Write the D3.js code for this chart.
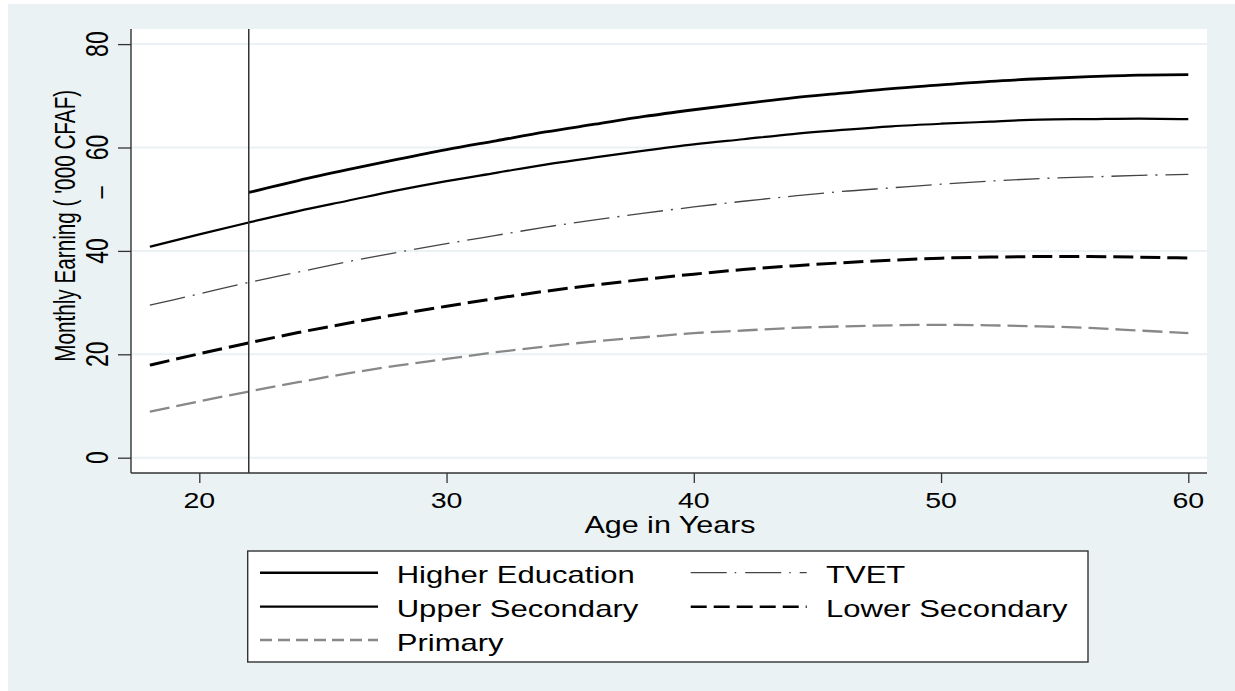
<!DOCTYPE html>
<html>
<head>
<meta charset="utf-8">
<script src="https://cdn.jsdelivr.net/npm/d3@7"></script>
<style>
  html, body { margin: 0; padding: 0; background: #ffffff; }
  svg { display: block; }
  text { font-family: "Liberation Sans", Arial, Helvetica, sans-serif; fill: #000; }
</style>
</head>
<body>
<svg id="chart" width="1235" height="691"></svg>
<script>
// ---------------- DATA ----------------
const ages = [18,20,22,24,26,28,30,32,34,36,38,40,42,44,46,48,50,52,54,56,58,60];
const higherAges = [22,24,26,28,30,32,34,36,38,40,42,44,46,48,50,52,54,56,58,60];
const higherEducation = [51.3,53.6,55.7,57.7,59.6,61.3,63.0,64.5,66.0,67.3,68.5,69.6,70.5,71.4,72.1,72.8,73.3,73.7,74.0,74.1];
const upperSecondary = [40.8,43.2,45.5,47.7,49.7,51.7,53.5,55.1,56.7,58.1,59.4,60.6,61.6,62.6,63.4,64.1,64.6,65.0,65.4,65.5,65.6,65.5];
const tvet = [29.5,31.7,33.9,35.9,37.9,39.7,41.4,43.0,44.6,46.0,47.3,48.5,49.6,50.6,51.5,52.2,52.9,53.5,54.0,54.3,54.6,54.8];
const lowerSecondary = [17.9,20.1,22.2,24.2,26.0,27.7,29.3,30.8,32.2,33.4,34.5,35.5,36.4,37.1,37.7,38.2,38.6,38.8,38.9,38.9,38.8,38.6];
const primary = [8.9,10.9,12.8,14.6,16.3,17.8,19.1,20.4,21.5,22.5,23.3,24.1,24.6,25.1,25.4,25.6,25.7,25.6,25.4,25.1,24.6,24.1];
const xTicks = [20,30,40,50,60];
const yTicks = [0,20,40,60,80];
const refAge = 22;
const xTitle = "Age in Years";
const yTitle = "Monthly Earning ( '000 CFAF)";
const seriesNames = ["Higher Education","TVET","Upper Secondary","Lower Secondary","Primary"];

// ---------------- STYLES ----------------
const styles = {
  "Higher Education": {color:"#000000", width:2.8, dash:null, legendDash:null},
  "Upper Secondary":  {color:"#000000", width:2.2, dash:null, legendDash:null},
  "TVET":             {color:"#444444", width:1.3, dash:"36,8,2,8", legendDash:"36,8,1.5,9"},
  "Lower Secondary":  {color:"#000000", width:3.0, dash:"20,7", legendDash:"16,7"},
  "Primary":          {color:"#888888", width:2.3, dash:"20,7", legendDash:"12,6"}
};
const series = [
  {name:"Higher Education", x:higherAges, y:higherEducation},
  {name:"Upper Secondary", x:ages, y:upperSecondary},
  {name:"TVET", x:ages, y:tvet},
  {name:"Lower Secondary", x:ages, y:lowerSecondary},
  {name:"Primary", x:ages, y:primary}
];

const SX = 1.27;   // horizontal glyph stretch of the original raster
const SXL = 1.35;  // legend text stretch
const bg = "#eaf2f3";
const axisColor = "#333333";

const svg = d3.select("#chart");
const plot = {left:131, right:1207, top:29, bottom:473};

const x = d3.scaleLinear().domain([20,60]).range([199.3,1188.3]);
const y = d3.scaleLinear().domain([0,80]).range([457.7,44.1]);

// backgrounds
svg.append("rect").attr("x",8).attr("y",4).attr("width",1235-8).attr("height",691-4).attr("fill",bg);
svg.append("rect").attr("x",plot.left).attr("y",plot.top)
  .attr("width",plot.right-plot.left).attr("height",plot.bottom-plot.top).attr("fill","#ffffff");

// gridlines
svg.append("g").selectAll("line").data(yTicks).join("line")
  .attr("x1",plot.left).attr("x2",plot.right)
  .attr("y1",d=>y(d)).attr("y2",d=>y(d))
  .attr("stroke",bg).attr("stroke-width",2);

// series lines
const lineGen = d3.line().x(d=>x(d[0])).y(d=>y(d[1])).curve(d3.curveMonotoneX);
const gLines = svg.append("g");
series.forEach(s=>{
  const st = styles[s.name];
  const pts = s.x.map((a,i)=>[a,s.y[i]]);
  gLines.append("path").datum(pts).attr("d",lineGen)
    .attr("fill","none").attr("stroke",st.color).attr("stroke-width",st.width)
    .attr("stroke-dasharray",st.dash).attr("stroke-linejoin","round");
});

// reference vertical line
svg.append("line").attr("x1",x(refAge)).attr("x2",x(refAge))
  .attr("y1",plot.top).attr("y2",plot.bottom).attr("stroke",axisColor).attr("stroke-width",1.5);

// axes
const yAxisG = svg.append("g").attr("transform",`translate(${plot.left},0)`)
  .call(d3.axisLeft(y).tickValues(yTicks).tickSize(13).tickFormat(""));
yAxisG.select(".domain").remove();
yAxisG.selectAll(".tick line").attr("stroke",axisColor).attr("stroke-width",1.3);
svg.append("line").attr("x1",plot.left).attr("x2",plot.left).attr("y1",plot.top).attr("y2",plot.bottom)
  .attr("stroke",axisColor).attr("stroke-width",1.4);

const xAxisG = svg.append("g").attr("transform",`translate(0,${plot.bottom})`)
  .call(d3.axisBottom(x).tickValues(xTicks).tickSize(10).tickFormat(""));
xAxisG.select(".domain").remove();
xAxisG.selectAll(".tick line").attr("stroke",axisColor).attr("stroke-width",1.3);
svg.append("line").attr("x1",plot.left).attr("x2",plot.right).attr("y1",plot.bottom).attr("y2",plot.bottom)
  .attr("stroke",axisColor).attr("stroke-width",1.4);

// tick labels
svg.append("g").selectAll("text").data(xTicks).join("text")
  .attr("transform",d=>`translate(${x(d)},508) scale(${SX},1)`)
  .attr("text-anchor","middle").attr("font-size",22.5).text(d=>d);

svg.append("g").selectAll("text").data(yTicks).join("text")
  .attr("transform",d=>`translate(108,${y(d)}) scale(1.4,1) rotate(-90)`)
  .attr("text-anchor","middle").attr("font-size",23).text(d=>d);

// stray dash mark in the label column
svg.append("text").attr("transform",`translate(109,192.5) scale(${SX},1) rotate(-90)`)
  .attr("text-anchor","middle").attr("font-size",22).text("\u2013");

// axis titles
svg.append("text").attr("transform",`translate(670,532.7) scale(${SX},1)`)
  .attr("text-anchor","middle").attr("font-size",24).text(xTitle);
svg.append("text").attr("transform",`translate(75,225.8) scale(${SX},1) rotate(-90)`)
  .attr("text-anchor","middle").attr("font-size",22.5)
  .attr("textLength",272).attr("lengthAdjust","spacingAndGlyphs").text(yTitle);

// legend
const lg = svg.append("g");
lg.append("rect").attr("x",247.7).attr("y",551).attr("width",1088-247.7).attr("height",662-551)
  .attr("fill","#ffffff").attr("stroke",axisColor).attr("stroke-width",1.4);
const rowsY = [572.7,606.7,640];
const cols = [{k1:260,k2:378,tx:396.7},{k1:690.7,k2:806.7,tx:826}];
seriesNames.forEach((name,i)=>{
  const c = cols[i%2], ry = rowsY[Math.floor(i/2)];
  const st = styles[name];
  lg.append("line").attr("x1",c.k1).attr("x2",c.k2).attr("y1",ry).attr("y2",ry)
    .attr("stroke",st.color).attr("stroke-width",Math.min(st.width,2.6))
    .attr("stroke-dasharray",st.legendDash);
  lg.append("text").attr("transform",`translate(${c.tx},${ry+10.5}) scale(${SXL},1)`)
    .attr("font-size",23).text(name);
});
</script>
</body>
</html>
